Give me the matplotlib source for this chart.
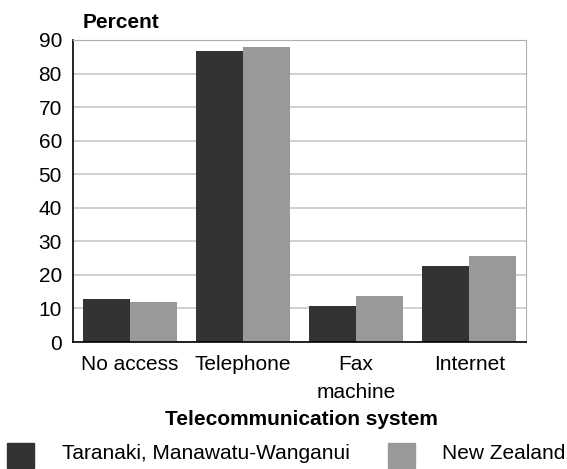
import matplotlib
matplotlib.use("Agg")
import matplotlib.pyplot as plt
import numpy as np
from matplotlib.patches import Rectangle

plt.rcParams['font.family'] = ['Liberation Sans', 'DejaVu Sans']

categories = ["No access", "Telephone", "Fax\nmachine", "Internet"]
region = [12.8, 86.7, 10.7, 22.6]
nz = [11.9, 87.9, 13.7, 25.6]
series_names = ["Taranaki, Manawatu-Wanganui", "New Zealand"]
colors = ["#333333", "#999999"]
yticks = list(range(0, 100, 10))

FS = 15
fig = plt.figure(figsize=(5.67, 4.69), dpi=100)
ax = fig.add_axes([73/567, 1-342/469, 453/567, 302/469])

x = np.arange(len(categories))
w = 0.415
ax.bar(x - w/2, region, w, color=colors[0], zorder=3, clip_on=False)
ax.bar(x + w/2, nz, w, color=colors[1], zorder=3, clip_on=False)

ax.set_xlim(-0.5, 3.5)
ax.set_ylim(0, 90)
ax.set_yticks(yticks)
ax.set_yticklabels([str(v) for v in yticks], fontsize=FS)
ax.set_xticks(x)
ax.set_xticklabels(categories, fontsize=FS, linespacing=1.6)
ax.tick_params(axis='x', length=0, pad=9)
ax.tick_params(axis='y', length=0, pad=8)
ax.yaxis.grid(True, color="#c8c8c8", linewidth=1.2, zorder=0)
ax.set_axisbelow(True)
for s in ['top', 'right']:
    ax.spines[s].set_color('#b0b0b0')
for s in ['left', 'bottom']:
    ax.spines[s].set_color('black')
    ax.spines[s].set_linewidth(1.2)
ax.spines['bottom'].set_zorder(4)

fig.text(83/567, 1-22/469, "Percent", fontsize=FS, fontweight='bold', va='center', ha='left')
fig.text(301/567, 1-419/469, "Telecommunication system", fontsize=FS, fontweight='bold', va='center', ha='center')

# legend
for (lx, tx, name, c) in [(7, 62, series_names[0], colors[0]), (388, 442, series_names[1], colors[1])]:
    fig.patches.append(Rectangle((lx/567, 1-468/469), 27/567, 25/469, color=c, transform=fig.transFigure, figure=fig))
    fig.text(tx/567, 1-453/469, name, fontsize=FS, va='center', ha='left')

fig.savefig("out.png", dpi=100)
